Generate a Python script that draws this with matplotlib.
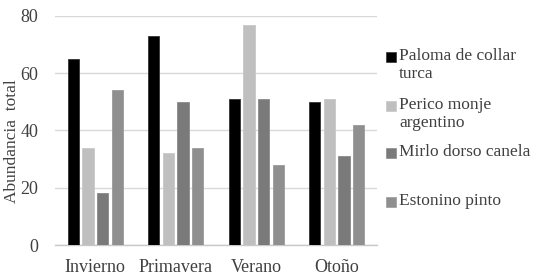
import matplotlib
matplotlib.use("Agg")
import matplotlib.pyplot as plt
import numpy as np
from matplotlib.patches import Rectangle

seasons = ["Invierno", "Primavera", "Verano", "Otoño"]
series_names = ["Paloma de collar\nturca", "Perico monje\nargentino", "Mirlo dorso canela", "Estonino pinto"]
paloma = [65, 73, 51, 50]
perico = [34, 32, 77, 51]
mirlo = [18, 50, 51, 31]
estonino = [54, 34, 28, 42]
yticks = [0, 20, 40, 60, 80]

colors = ["#000000", "#bfbfbf", "#7a7a7a", "#8f8f8f"]
edges = ["#333333", "#c8c8c8", "#8a8a8a", "#9a9a9a"]
text_color = "#404040"

plt.rcParams['font.family'] = ['Liberation Serif', 'DejaVu Serif']

fig = plt.figure(figsize=(5.34, 2.80), dpi=100)
ax = fig.add_axes([0.103, 0.125, 0.603, 0.818])

x = np.arange(len(seasons))
step = 0.183
width = 0.14
data = [paloma, perico, mirlo, estonino]
for i, vals in enumerate(data):
    ax.bar(x + (i - 1.5) * step, vals, width, color=colors[i], edgecolor=edges[i], linewidth=0.6, zorder=3)

ax.set_xlim(-0.5, len(seasons) - 0.5)
ax.set_ylim(0, 80)
ax.set_yticks(yticks)
ax.set_xticks(x)
ax.set_xticklabels(seasons)
ax.grid(axis='y', color='#d9d9d9', linewidth=1.0, zorder=0)
for s in ['top', 'right', 'left']:
    ax.spines[s].set_visible(False)
ax.spines['bottom'].set_color('#c8c8c8')
ax.spines['bottom'].set_linewidth(1.0)
ax.tick_params(axis='x', length=0, labelsize=13, colors=text_color, pad=10)
ax.tick_params(axis='y', length=0, labelsize=13, colors=text_color, pad=12)

fig.text(12 / 534, 1 - 141 / 280, "Abundancia  total", rotation=90, fontsize=12.5,
         color=text_color, ha='center', va='center')

# legend
leg_y = [57, 106, 153, 202]
for i, name in enumerate(series_names):
    yc = 1 - leg_y[i] / 280
    fig.patches.append(Rectangle((386 / 534, yc - 5 / 280), 10 / 534, 10 / 280,
                                 transform=fig.transFigure, facecolor=colors[i],
                                 edgecolor=edges[i], linewidth=0.5))
    fig.text(399 / 534, yc + 9 / 280, name, fontsize=12.5, color=text_color,
             va='top', ha='left', linespacing=1.15)

fig.savefig("out.png", dpi=100)
